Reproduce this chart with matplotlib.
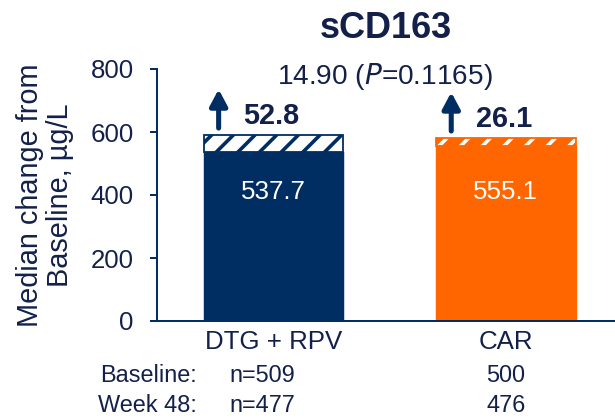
import matplotlib
matplotlib.use("Agg")
import matplotlib.pyplot as plt
from matplotlib.transforms import blended_transform_factory

plt.rcParams['font.family'] = ['Liberation Sans', 'DejaVu Sans']
plt.rcParams['hatch.linewidth'] = 2.0

# data
groups = ['DTG + RPV', 'CAR']
baseline = [537.7, 555.1]
change = [52.8, 26.1]
n_baseline = ['n=509', '500']
n_week48 = ['n=477', '476']
title = 'sCD163'
diff_label = '14.90 ($\\it{P}$=0.1165)'

navy = '#002D62'
text_col = '#13204A'
orange = '#FF6600'

DPI = 130
fig = plt.figure(figsize=(615 / DPI, 419 / DPI), dpi=DPI)
ax = fig.add_axes([157 / 615, 98 / 419, 458 / 615, 252 / 419])

x = list(range(len(groups)))
width = 0.6
face_colors = [navy, orange]

ax.bar(x, baseline, width=width, color=face_colors, edgecolor=face_colors, linewidth=0.8, zorder=2)
# hatched segment on top: navy stripes on white, white stripes on orange
ax.bar(x[0], change[0], bottom=baseline[0], width=width, facecolor='white',
       edgecolor=navy, hatch='//', linewidth=1.0, zorder=2)
ax.bar(x[1], change[1], bottom=baseline[1], width=width, facecolor=orange,
       edgecolor='white', hatch='//', linewidth=0, zorder=2)
ax.bar(x[1], change[1], bottom=baseline[1], width=width, facecolor='none',
       edgecolor=orange, linewidth=1.0, zorder=3)

for xi, b, c in zip(x, baseline, change):
    top = b + c
    ax.text(xi, 410, f'{b:.1f}', ha='center', va='center', color='white', fontsize=14.3)
    ax.annotate('', xy=(xi - 0.235, top + 145), xytext=(xi - 0.235, top + 22),
                arrowprops=dict(arrowstyle='-|>,head_width=0.4,head_length=0.75',
                                lw=2.8, color=navy, shrinkA=0, shrinkB=0))
    ax.text(xi - 0.13, top + 60, f'{c:.1f}', ha='left', va='center',
            color=text_col, fontsize=16, fontweight='bold')

ax.text(0.48, 775, diff_label, ha='center', va='center', color=text_col, fontsize=15.5)
ax.text(0.484, 930, title, ha='center', va='center', color=text_col,
        fontsize=20, fontweight='bold', clip_on=False)

ax.set_xlim(-0.5, 1.469)
ax.set_ylim(0, 800)
ax.set_yticks([0, 200, 400, 600, 800])
ax.set_xticks(x)
ax.set_xticklabels(groups)
ax.tick_params(axis='y', direction='out', length=4, width=1.1, colors=navy,
               labelcolor=text_col, labelsize=14.3, pad=9)
ax.tick_params(axis='x', length=0, labelcolor=text_col, labelsize=14.3, pad=5)
for side in ['top', 'right']:
    ax.spines[side].set_visible(False)
for side in ['left', 'bottom']:
    ax.spines[side].set_color(navy)
    ax.spines[side].set_linewidth(1.1)

fig.text(45 / 615, 1 - 195 / 419, 'Median change from\nBaseline, \u00b5g/L', rotation=90,
         ha='center', va='center', color=text_col, fontsize=16, linespacing=1.1)

# n rows under the axis
tr = blended_transform_factory(ax.transData, fig.transFigure)
for row_label, vals, ypx in [('Baseline:', n_baseline, 376), ('Week 48:', n_week48, 406)]:
    yf = 1 - ypx / 419
    fig.text(197 / 615, yf, row_label, ha='right', va='center', color=text_col, fontsize=13)
    ax.text(-0.187, yf, vals[0], ha='left', va='center', color=text_col, fontsize=13, transform=tr)
    ax.text(x[1], yf, vals[1], ha='center', va='center', color=text_col, fontsize=13, transform=tr)

fig.savefig('out.png', dpi=DPI)
